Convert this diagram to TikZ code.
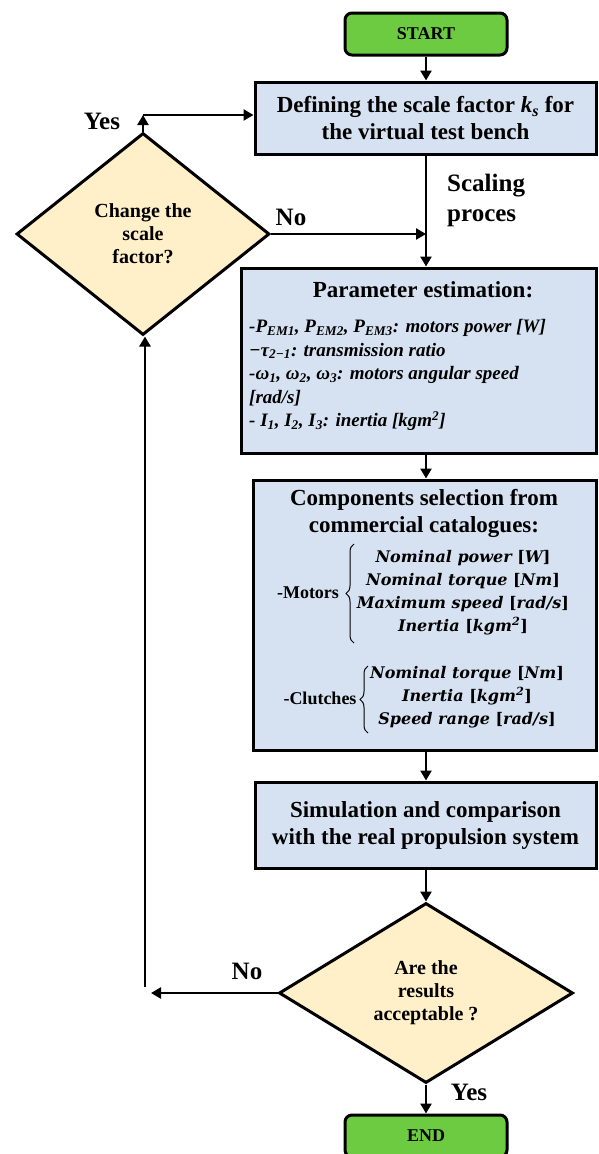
\documentclass[tikz,border=0pt]{standalone}
\usepackage{fontspec}
\setmainfont{Liberation Serif}
\newfontfamily\itemfont{DejaVu Serif}
\usetikzlibrary{shapes.geometric,arrows.meta,decorations.pathreplacing}
\definecolor{boxblue}{HTML}{D6E2F1}
\definecolor{termgreen}{HTML}{6CCB41}
\definecolor{decyellow}{HTML}{FFF0C9}
\begin{document}
\begin{tikzpicture}[x=1pt,y=-1pt,
  arr/.style={-{Triangle[length=10pt,width=11pt]}, line width=2.8pt},
  procbox/.style={draw, fill=boxblue, line width=3pt, inner sep=0pt, align=center},
  term/.style={draw, fill=termgreen, rounded corners=7pt, line width=3pt, minimum width=162pt, minimum height=42pt, inner sep=0pt, font=\fontsize{18}{20}\selectfont\bfseries},
  decis/.style={draw, diamond, fill=decyellow, line width=3pt, inner sep=0pt, align=center, font=\fontsize{20}{23}\selectfont\bfseries},
  lbl/.style={font=\fontsize{25}{30}\selectfont\bfseries, inner sep=0pt},
  boxtext/.style={font=\fontsize{23}{27}\selectfont\bfseries, align=center, inner sep=0pt},
  partext/.style={font=\fontsize{19}{23.5}\selectfont\bfseries\itshape, align=left, inner sep=0pt},
  itemtext/.style={font=\itemfont\fontsize{16}{23}\selectfont\bfseries\itshape, align=center, inner sep=0pt},
  grouptext/.style={font=\fontsize{18}{20}\selectfont\bfseries, inner sep=0pt},
  brc/.style={decorate, decoration={brace, amplitude=8pt}, line width=1pt}
]
\useasboundingbox (0,0) rectangle (598,1154);
\begin{scope}
\clip (0,0) rectangle (598,1154);
% nodes
\node[term] (start) at (426,34) {START};
\node[procbox, minimum width=341pt, minimum height=72pt] (def) at (425.5,118) {};
\node[boxtext] (deft) at (425.5,118) {Defining the scale factor \textit{k}\textsubscript{\textit{s}} for\\the virtual test bench};
\node[decis, minimum width=253pt, minimum height=202pt] (d1) at (143,234) {Change the\\scale\\factor?};
\node[procbox, minimum width=355pt, minimum height=185pt] (param) at (418.5,360.5) {};
\node[boxtext] (paramt) at (423,290) {Parameter estimation:};
\node[partext, anchor=west] (paraml) at (249,375) {-\textit{P}\textsubscript{\textit{EM}1}, \textit{P}\textsubscript{\textit{EM}2}, \textit{P}\textsubscript{\textit{EM}3}: motors power {[}W]\\
−τ\textsubscript{2−1}: transmission ratio\\
-ω\textsubscript{1}, ω\textsubscript{2}, ω\textsubscript{3}: motors angular speed\\
{[}rad/s]\\
- \textit{I}\textsubscript{1}, \textit{I}\textsubscript{2}, \textit{I}\textsubscript{3}: inertia {[}kgm\textsuperscript{2}]};
\node[procbox, minimum width=343pt, minimum height=270pt] (comp) at (424.5,615) {};
\node[boxtext] (compt) at (424,513.5) {Components selection from\\commercial catalogues:};
\node[grouptext] (mot) at (308,593) {-Motors};
\node[itemtext] (motl) at (463,592.5) {Nominal power {\upshape[}\textit{W}{\upshape]}\\Nominal torque {\upshape[}\textit{Nm}{\upshape]}\\Maximum speed {\upshape[}\textit{rad/s}{\upshape]}\\Inertia {\upshape[}\textit{kgm}\textsuperscript{2}{\upshape]}};
\node[grouptext] (clu) at (320,698) {-Clutches};
\node[itemtext] (clul) at (467,697) {Nominal torque {\upshape[}\textit{Nm}{\upshape]}\\Inertia {\upshape[}\textit{kgm}\textsuperscript{2}{\upshape]}\\Speed range {\upshape[}\textit{rad/s}{\upshape]}};
\coordinate (mb1) at (354,643); \coordinate (mb2) at (354,544);
\coordinate (cb1) at (368,733); \coordinate (cb2) at (368,666);
\draw[brc] (mb1) -- (mb2);
\draw[brc] (cb1) -- (cb2);
\node[procbox, minimum width=341pt, minimum height=86pt] (sim) at (425.5,825) {};
\node[boxtext] (simt) at (425.5,825) {Simulation and comparison\\with the real propulsion system};
\node[decis, minimum width=294pt, minimum height=180pt] (d2) at (426,993) {Are the\\results\\acceptable ?};
\node[term] (end) at (426,1136) {END};
% labels
\node[lbl] (yes1) at (102,121) {Yes};
\node[lbl] (no1) at (291,217) {No};
\node[lbl, anchor=west, align=left] (scal) at (447,200) {Scaling\\proces};
\node[lbl] (no2) at (247,971) {No};
\node[lbl] (yes2) at (469,1092) {Yes};
% connectors
\draw[arr] (start) -- (start |- def.north);
\draw[arr] (def.south -| start) -- (start |- param.north);
\draw[arr] (d1.east) -- (d1.east -| start);
\coordinate (yc) at (143,115);
\draw[arr] (d1.north) -- (yc);
\draw[arr] (yc) -- (yc -| def.west);
\draw[arr] (param.south -| start) -- (start |- comp.north);
\draw[arr] (comp.south -| start) -- (start |- sim.north);
\draw[arr] (sim.south -| start) -- (start |- d2.north);
\draw[arr] (d2) -- (end);
\coordinate (noend) at (151,993);
\draw[arr] (d2.west) -- (noend);
\coordinate (loopbot) at (145,987);
\draw[arr] (loopbot) -- (loopbot |- d1.south);
\end{scope}
\end{tikzpicture}
\end{document}
